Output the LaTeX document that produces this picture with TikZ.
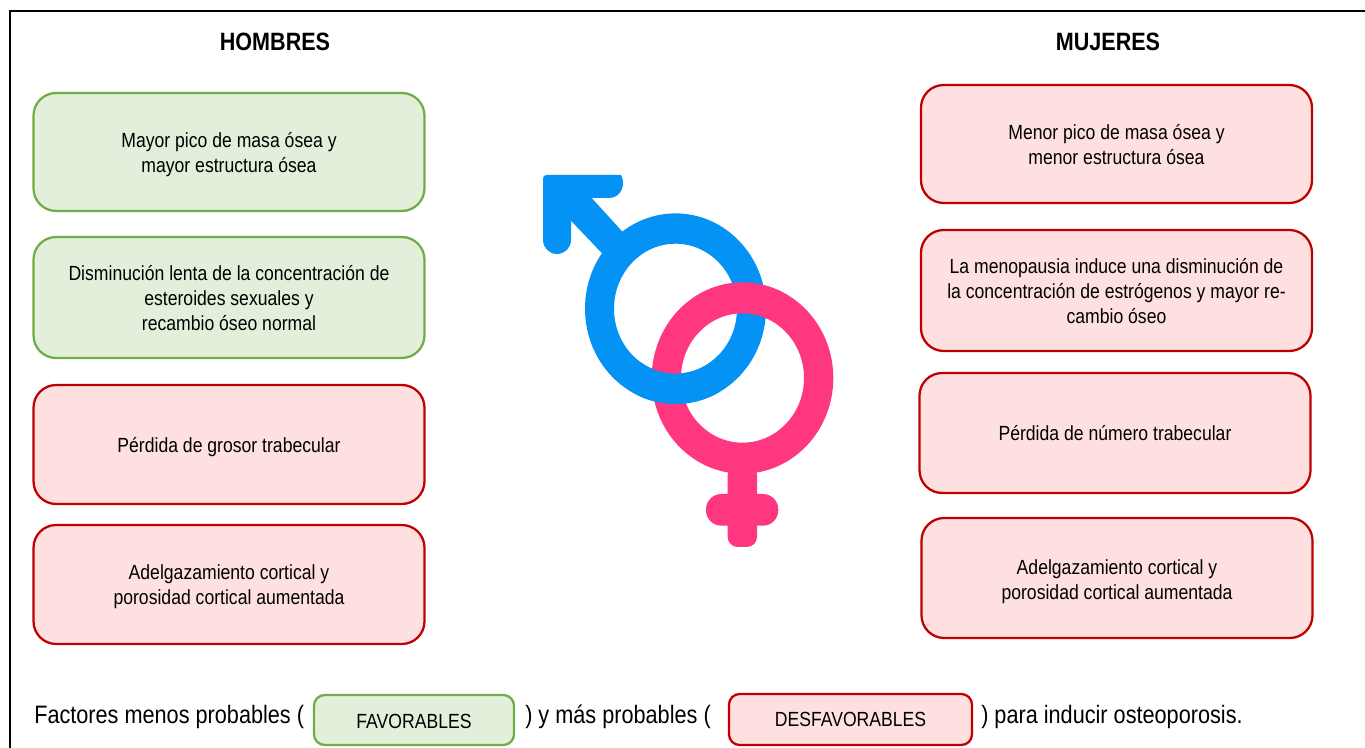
\documentclass[tikz,border=0pt]{standalone}
\usepackage{fontspec}
\setmainfont[FakeStretch=0.86]{Liberation Sans}
\definecolor{favfill}{HTML}{E2EFDA}
\definecolor{favline}{HTML}{70AD47}
\definecolor{desfill}{HTML}{FFE0E1}
\definecolor{desline}{HTML}{C00000}
\definecolor{maleblue}{HTML}{0492F5}
\definecolor{femalepink}{HTML}{FF3780}
\newcommand{\bajar}[1]{\rule{0pt}{#1}}
\tikzset{
	factor/.style = {rounded corners = 17pt, line width = 1.7pt, minimum width = 293.25pt, align = center,
		font = \fontsize{15.35}{18.75}\selectfont},
	fav/.style = {factor, draw = favline, fill = favfill},
	desfav/.style = {factor, draw = desline, fill = desfill},
	heading/.style = {font = \fontsize{18.8}{22}\selectfont\bfseries},
	legendtext/.style = {anchor = base west, inner sep = 0pt, font = \fontsize{18.9}{22}\selectfont},
	legendbox/.style = {rounded corners = 8pt, minimum width = #1}
}
\begin{document}
\begin{tikzpicture}[x = 0.75pt, y = -0.75pt]
	\useasboundingbox (0,0) rectangle (1365,748);
	\draw[line width = 2.2pt] (1365,11) -- (10,11) -- (10,748);

	\node[heading] (hombres) at (275,42) {HOMBRES};
	\node[heading] (mujeres) at (1108,42) {MUJERES};

	\node[fav, minimum height = 88.5pt] (hombresa) at (229,152) {\bajar{14.5pt}Mayor pico de masa ósea y\\mayor estructura ósea};
	\node[fav, minimum height = 90.75pt] (hombresb) at (229,297.5) {\bajar{12.5pt}Disminución lenta de la concentración de\\esteroides sexuales y\\recambio óseo normal};
	\node[desfav, minimum height = 89.25pt] (hombresc) at (229,444.5) {\bajar{14.5pt}Pérdida de grosor trabecular};
	\node[desfav, minimum height = 89.25pt] (hombresd) at (229,584.5) {\bajar{14pt}Adelgazamiento cortical y\\porosidad cortical aumentada};

	\node[desfav, minimum height = 88.5pt] (mujeresa) at (1116.5,144) {\bajar{12.5pt}Menor pico de masa ósea y\\menor estructura ósea};
	\node[desfav, minimum height = 90.75pt] (mujeresb) at (1116.5,290.5) {\bajar{12.5pt}La menopausia induce una disminución de\\la concentración de estrógenos y mayor re-\\cambio óseo};
	\node[desfav, minimum height = 90pt] (mujeresc) at (1115,433) {Pérdida de número trabecular};
	\node[desfav, minimum height = 90pt] (mujeresd) at (1117,578) {\bajar{17pt}Adelgazamiento cortical y\\porosidad cortical aumentada};

	% simbolos
	\fill[maleblue] (543,179) .. controls (543,176) and (544,175) .. (547,175) -- (621,175) .. controls (626,183) and (622,198) .. (609,198) -- (591.7,198) -- (622.7,232) -- (601.7,253) -- (571,220.7) -- (571,240) arc (0:180:14) -- cycle;
	\fill[maleblue, even odd rule] (675.5,308.7) ellipse (90.5 and 95.3) (675.5,308.7) ellipse (61.5 and 65);
	\fill[femalepink, even odd rule] (742.5,378) ellipse (90.8 and 95.7) (742.5,378) ellipse (61.5 and 64.7);
	\fill[femalepink, rounded corners = 7.5pt] (727.7,465) -- (757,465) -- (757,547) -- (727.7,547) -- cycle;
	\fill[femalepink, rounded corners = 11.5pt] (706,494) -- (778.3,494) -- (778.3,525.7) -- (706,525.7) -- cycle;
	\begin{scope}
		\clip (640,350) rectangle (720,415);
		\fill[maleblue, even odd rule] (675.5,308.7) ellipse (90.5 and 95.3) (675.5,308.7) ellipse (61.5 and 65);
	\end{scope}

	% leyenda
	\node[legendtext] (lega) at (34,723) {Factores menos probables (};
	\node[fav, legendbox = 150pt, minimum height = 37.5pt] (favorables) at (414,720) {\bajar{12.5pt}FAVORABLES};
	\node[legendtext] (legb) at (525,723) {) y más probables (};
	\node[desfav, legendbox = 182.25pt, minimum height = 38.25pt] (desfavorables) at (850.5,719.5) {DESFAVORABLES};
	\node[legendtext] (legc) at (981,723) {) para inducir osteoporosis.};
\end{tikzpicture}
\end{document}
